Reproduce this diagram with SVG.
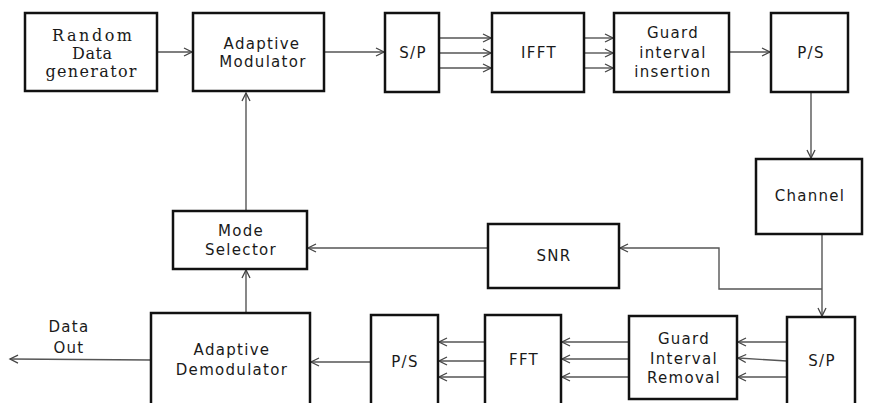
<svg xmlns="http://www.w3.org/2000/svg" width="874" height="403" viewBox="0 0 874 403">
<defs>
<marker id="ah" markerUnits="userSpaceOnUse" markerWidth="12" markerHeight="12" refX="9" refY="6" orient="auto">
<path d="M1,2 L9,6 L1,10" fill="none" stroke="#444" stroke-width="1.3"/>
</marker>
<style>
.box{fill:#fff;stroke:#111;stroke-width:2.5}
.t{font-family:"DejaVu Sans",sans-serif;font-size:15px;fill:#1a1a1a;text-anchor:middle;letter-spacing:1.3px}
.s{font-family:"DejaVu Serif",serif;font-size:16px;fill:#1a1a1a;text-anchor:middle}
.c{fill:none;stroke:#555;stroke-width:1.4;marker-end:url(#ah)}
</style>
</defs>
<rect width="874" height="403" fill="#fff"/>
<g id="connectors">
<line class="c" x1="157" y1="52" x2="192" y2="52"/>
<line class="c" x1="324" y1="52" x2="384" y2="52"/>
<line class="c" x1="439" y1="38" x2="491" y2="38"/>
<line class="c" x1="439" y1="53" x2="491" y2="53"/>
<line class="c" x1="439" y1="68" x2="491" y2="68"/>
<line class="c" x1="584" y1="38" x2="613" y2="38"/>
<line class="c" x1="584" y1="53" x2="613" y2="53"/>
<line class="c" x1="584" y1="68" x2="613" y2="68"/>
<line class="c" x1="729" y1="52" x2="770" y2="52"/>
<line class="c" x1="811" y1="92" x2="811" y2="158"/>
<line class="c" x1="822" y1="234" x2="822" y2="316"/>
<polyline class="c" points="822,289 719,289 719,248 620,248"/>
<line class="c" x1="488" y1="248" x2="308" y2="248"/>
<line class="c" x1="246" y1="211" x2="246" y2="93"/>
<line class="c" x1="246" y1="313" x2="246" y2="270"/>
<line class="c" x1="787" y1="342" x2="738" y2="342"/>
<line class="c" x1="787" y1="361" x2="738" y2="358"/>
<line class="c" x1="787" y1="377" x2="738" y2="377"/>
<line class="c" x1="629" y1="342" x2="562" y2="342"/>
<line class="c" x1="629" y1="359" x2="562" y2="359"/>
<line class="c" x1="629" y1="377" x2="562" y2="377"/>
<line class="c" x1="485" y1="342" x2="439" y2="342"/>
<line class="c" x1="485" y1="361" x2="439" y2="361"/>
<line class="c" x1="485" y1="377" x2="439" y2="377"/>
<line class="c" x1="371" y1="362" x2="311" y2="362"/>
<line class="c" x1="151" y1="360" x2="10" y2="359"/>
</g>
<g id="random-data-generator">
<rect class="box" x="25" y="13" width="132" height="78"/>
<text class="s" x="92" y="41" textLength="80" lengthAdjust="spacing">Random</text>
<text class="s" x="92" y="59" textLength="40" lengthAdjust="spacing">Data</text>
<text class="s" x="91" y="77" textLength="91" lengthAdjust="spacing">generator</text>
</g>
<g id="adaptive-modulator">
<rect class="box" x="193" y="13" width="131" height="78"/>
<text class="t" x="262" y="49">Adaptive</text>
<text class="t" x="263" y="67">Modulator</text>
</g>
<g id="sp-tx">
<rect class="box" x="385" y="13" width="54" height="79"/>
<text class="t" x="413" y="58">S/P</text>
</g>
<g id="ifft">
<rect class="box" x="492" y="13" width="92" height="79"/>
<text class="t" x="539" y="58">IFFT</text>
</g>
<g id="guard-insertion">
<rect class="box" x="614" y="13" width="115" height="79"/>
<text class="t" x="673" y="38">Guard</text>
<text class="t" x="673" y="58">interval</text>
<text class="t" x="673" y="77">insertion</text>
</g>
<g id="ps-tx">
<rect class="box" x="771" y="13" width="77" height="79"/>
<text class="t" x="811" y="58">P/S</text>
</g>
<g id="channel">
<rect class="box" x="756" y="159" width="106" height="75"/>
<text class="t" x="810" y="201">Channel</text>
</g>
<g id="snr">
<rect class="box" x="488" y="224" width="131" height="64"/>
<text class="t" x="554" y="261">SNR</text>
</g>
<g id="mode-selector">
<rect class="box" x="173" y="211" width="134" height="58"/>
<text class="t" x="241" y="236">Mode</text>
<text class="t" x="241" y="255">Selector</text>
</g>
<g id="adaptive-demodulator">
<rect class="box" x="151" y="313" width="159" height="95"/>
<text class="t" x="232" y="355">Adaptive</text>
<text class="t" x="232" y="375">Demodulator</text>
</g>
<g id="ps-rx">
<rect class="box" x="371" y="315" width="67" height="93"/>
<text class="t" x="405" y="367">P/S</text>
</g>
<g id="fft">
<rect class="box" x="485" y="315" width="76" height="93"/>
<text class="t" x="524" y="365">FFT</text>
</g>
<g id="guard-removal">
<rect class="box" x="629" y="316" width="108" height="83"/>
<text class="t" x="684" y="344">Guard</text>
<text class="t" x="684" y="364">Interval</text>
<text class="t" x="684" y="383">Removal</text>
</g>
<g id="sp-rx">
<rect class="box" x="787" y="317" width="68" height="91"/>
<text class="t" x="822" y="366">S/P</text>
</g>
<g id="data-out">
<text class="t" x="69" y="332">Data</text>
<text class="t" x="69" y="353">Out</text>
</g>
</svg>
